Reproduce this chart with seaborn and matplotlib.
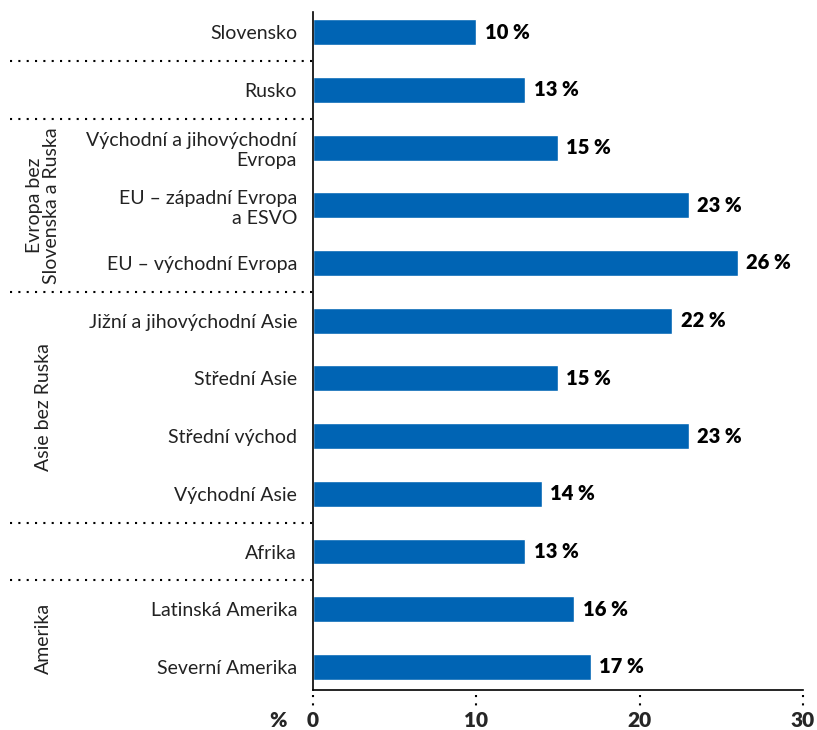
import matplotlib
matplotlib.use("Agg")
import matplotlib.pyplot as plt
import matplotlib.transforms as mtransforms
import pandas as pd
import seaborn as sns

# ──────────────────────────────────────────────
# Data
# ──────────────────────────────────────────────
categories = [
    "Slovensko",
    "Rusko",
    "Východní a jihovýchodní\nEvropa",
    "EU – západní Evropa\na ESVO",
    "EU – východní Evropa",
    "Jižní a jihovýchodní Asie",
    "Střední Asie",
    "Střední východ",
    "Východní Asie",
    "Afrika",
    "Latinská Amerika",
    "Severní Amerika",
]
values = [10, 13, 15, 23, 26, 22, 15, 23, 14, 13, 16, 17]

# group label, first and last category index
groups = [
    ("Evropa bez\nSlovenska a Ruska", 2, 4),
    ("Asie bez Ruska", 5, 8),
    ("Amerika", 10, 11),
]
separators = [0.5, 1.5, 4.5, 8.5, 9.5]
x_ticks = [0, 10, 20, 30]

BLUE = "#0064B4"
FONT = "Lato"

df = pd.DataFrame({"kategorie": categories, "podil": values})

# ──────────────────────────────────────────────
# Plot
# ──────────────────────────────────────────────
sns.set_style("white")
plt.rcParams["font.family"] = [FONT, "DejaVu Sans"]

fig = plt.figure(figsize=(8.17, 7.30), dpi=100)
ax = fig.add_axes([0.3831, 0.0548, 0.5998, 0.9288])

sns.barplot(data=df, x="podil", y="kategorie", orient="h", color=BLUE,
            width=0.45, saturation=1, ax=ax)

ax.set_xlim(0, 30)
ax.set_ylim(len(categories) - 0.6, -0.35)
ax.set_xlabel("")
ax.set_ylabel("")

# value labels
ax.bar_label(ax.containers[0], labels=[f"{v} %" for v in values], padding=6,
             fontsize=14.5, fontweight="heavy", color="black", family=FONT)

# spines
for s in ["top", "right"]:
    ax.spines[s].set_visible(False)
for s in ["left", "bottom"]:
    ax.spines[s].set_linewidth(1.2)
    ax.spines[s].set_color("black")

# y labels
ax.tick_params(axis="y", length=0, pad=11.5, labelsize=14)
for t in ax.get_yticklabels():
    t.set_ha("right")
    t.set_multialignment("right")
    t.set_color("#222222")

# x ticks: short solid tick + dotted line below
ax.set_xticks(x_ticks)
ax.tick_params(axis="x", length=3, width=1.2, pad=12, labelsize=15)
for t in ax.get_xticklabels():
    t.set_fontweight("heavy")
trans_x = mtransforms.blended_transform_factory(ax.transData, ax.transAxes)
ax.vlines(x_ticks, -0.008, -0.026, transform=trans_x, colors="black",
          linestyles=(0, (1, 3)), linewidth=1.5, clip_on=False)
ax.text(-0.071, -0.0444, "%", transform=ax.transAxes, ha="center", va="center",
        fontsize=15, fontweight="heavy")

# dotted separators between groups
trans_y = mtransforms.blended_transform_factory(ax.transAxes, ax.transData)
for y in separators:
    ax.plot([-0.618, 0], [y, y], transform=trans_y, color="black",
            linestyle=(0, (1, 3)), linewidth=1.5, clip_on=False)

# rotated group labels
for label, i0, i1 in groups:
    ax.text(-0.55, (i0 + i1) / 2, label, transform=trans_y, rotation=90,
            ha="center", va="center", fontsize=14, color="#222222",
            multialignment="center", linespacing=1.0)

fig.savefig("out.png", dpi=100)
